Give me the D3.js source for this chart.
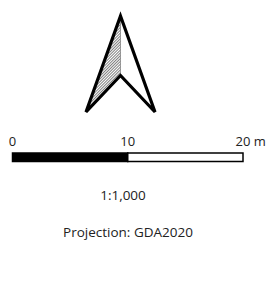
<!DOCTYPE html>
<html>
<head>
<meta charset="utf-8">
<script src="https://cdn.jsdelivr.net/npm/d3@7"></script>
<style>
  body { margin: 0; background: #fff; }
  text { font-family: "Open Sans", sans-serif; fill: #222; }
</style>
</head>
<body>
<div id="chart-area"></div>
<script>
// Scale bar segments (metres) and tick labels
const segStarts = [0, 10];
const segEnds = [10, 20];
const segFills = ['#000', '#fff'];
const tickValues = [0, 10, 20];
const unitLabel = 'm';
const scaleText = '1:1,000';
const projText = 'Projection: GDA2020';

const width = 270;
const height = 308;

const svg = d3.select('#chart-area')
    .append('svg')
    .attr('width', width)
    .attr('height', height);

// Hatch pattern for the shaded half of the arrow
const defs = svg.append('defs');
defs.append('pattern')
    .attr('id', 'hatch')
    .attr('patternUnits', 'userSpaceOnUse')
    .attr('width', 2)
    .attr('height', 2)
    .attr('patternTransform', 'rotate(45)')
    .append('line')
    .attr('x1', 0).attr('y1', 0)
    .attr('x2', 0).attr('y2', 2)
    .attr('stroke', '#000')
    .attr('stroke-width', 1);

// North arrow, drawn in unit space then scaled
const ax = d3.scaleLinear().domain([-1, 1]).range([86, 155]);
const ay = d3.scaleLinear().domain([0, 1]).range([16, 112]);
const tip = [0, 0], notch = [0, 0.62], bl = [-1, 1], br = [1, 1];
const pt = p => [ax(p[0]), ay(p[1])];
const line = d3.line();

const arrow = svg.append('g');
arrow.append('path')
    .attr('d', line([tip, notch, bl].map(pt)) + 'Z')
    .attr('fill', 'url(#hatch)')
    .attr('stroke', 'none');
arrow.append('path')
    .attr('d', line([tip, notch].map(pt)))
    .attr('stroke', '#777')
    .attr('stroke-width', 0.7);
arrow.append('path')
    .attr('d', line([tip, br, notch, bl].map(pt)) + 'Z')
    .attr('fill', 'none')
    .attr('stroke', '#000')
    .attr('stroke-width', 3.2)
    .attr('stroke-linejoin', 'miter');

// Scale bar
const x = d3.scaleLinear().domain([0, 20]).range([12.5, 243]);
const barTop = 153, barH = 8.5;

svg.selectAll('rect.seg')
    .data(segStarts)
    .enter()
    .append('rect')
    .attr('class', 'seg')
    .attr('x', (d, i) => x(d))
    .attr('y', barTop)
    .attr('width', (d, i) => x(segEnds[i]) - x(d))
    .attr('height', barH)
    .attr('fill', (d, i) => segFills[i])
    .attr('stroke', '#000')
    .attr('stroke-width', 1.5);

const labels = svg.selectAll('text.tick')
    .data(tickValues)
    .enter()
    .append('text')
    .attr('class', 'tick')
    .attr('x', d => x(d))
    .attr('y', 146)
    .attr('font-size', '13px')
    .attr('text-anchor', 'middle')
    .text(d => d);

// unit label sits after the last number
labels.filter((d, i) => i === tickValues.length - 1)
    .attr('text-anchor', 'start')
    .each(function (d) {
        const w = this.getComputedTextLength();
        d3.select(this).attr('x', x(d) - w / 2).text(d + ' ' + unitLabel);
    });

svg.append('text')
    .attr('x', 123)
    .attr('y', 200)
    .attr('font-size', '13.5px')
    .attr('text-anchor', 'middle')
    .text(scaleText);

svg.append('text')
    .attr('x', 128)
    .attr('y', 236.5)
    .attr('font-size', '13.5px')
    .attr('text-anchor', 'middle')
    .text(projText);
</script>
</body>
</html>
